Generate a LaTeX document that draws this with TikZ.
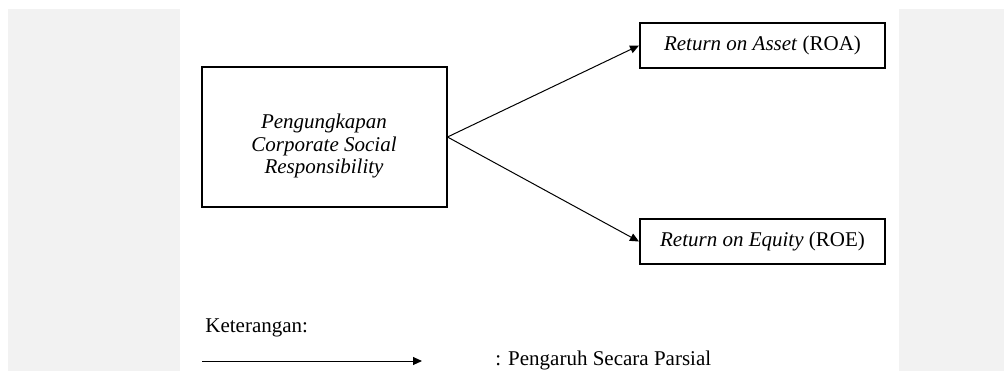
\documentclass[tikz,border=0pt]{standalone}
\usepackage{fontspec}
\setmainfont{Liberation Serif}
\usepackage{tkz-euclide}
\usetikzlibrary{arrows.meta}

\tikzset{
	kotak/.style={draw,line width=1pt,minimum width=122.5pt,minimum height=22.5pt,inner sep=0pt,align=center},
	panah/.style={line width=0.5pt,-{Triangle[length=4.5pt,width=4pt]}},
	latar/.style={fill=black!5,draw=none}
}

\begin{document}
\begin{tikzpicture}[x=0.5pt,y=0.5pt,font=\fontsize{10.5}{11.25}\selectfont]
		%\tkzDrawX
		%\tkzDrawY
		\tkzDefPoints{0/0/O, 1007/371/Z}
		\useasboundingbox (O) rectangle (Z);
		
		\tkzDefPoints{8/0/L1, 180/362/L2, 899/0/K1, 1004/362/K2}
		\fill[latar] (L1) rectangle (L2);
		\fill[latar] (K1) rectangle (K2);
		
		\tkzDefPoints{324/234/C, 762.5/325.5/A, 762.5/129.5/E}
		\node[kotak,minimum height=70pt] (csr) at (C) {};
		\node[font=\fontsize{10.5}{11.25}\selectfont\itshape,align=center] (csrteks) at ([yshift=-4.5pt]csr.center) {Pengungkapan\\Corporate Social\\Responsibility};
		\node[kotak] (roa) at (A) {\textit{Return on Asset} (ROA)};
		\node[kotak] (roe) at (E) {\textit{Return on Equity} (ROE)};
		
		\draw[panah] (csr.east) -- (roa.west);
		\draw[panah] (csr.east) -- (roe.west);
		
		\tkzDefPoints{205/39/K, 202/10/P1, 422/10/P2, 495/6/T}
		\node[anchor=base west,inner sep=0pt] (ket) at (K) {Keterangan:};
		\draw[panah] (P1) -- (P2);
		\node[anchor=base west,inner sep=0pt] (parsial) at (T) {: Pengaruh Secara Parsial};
	\end{tikzpicture}
\end{document}
